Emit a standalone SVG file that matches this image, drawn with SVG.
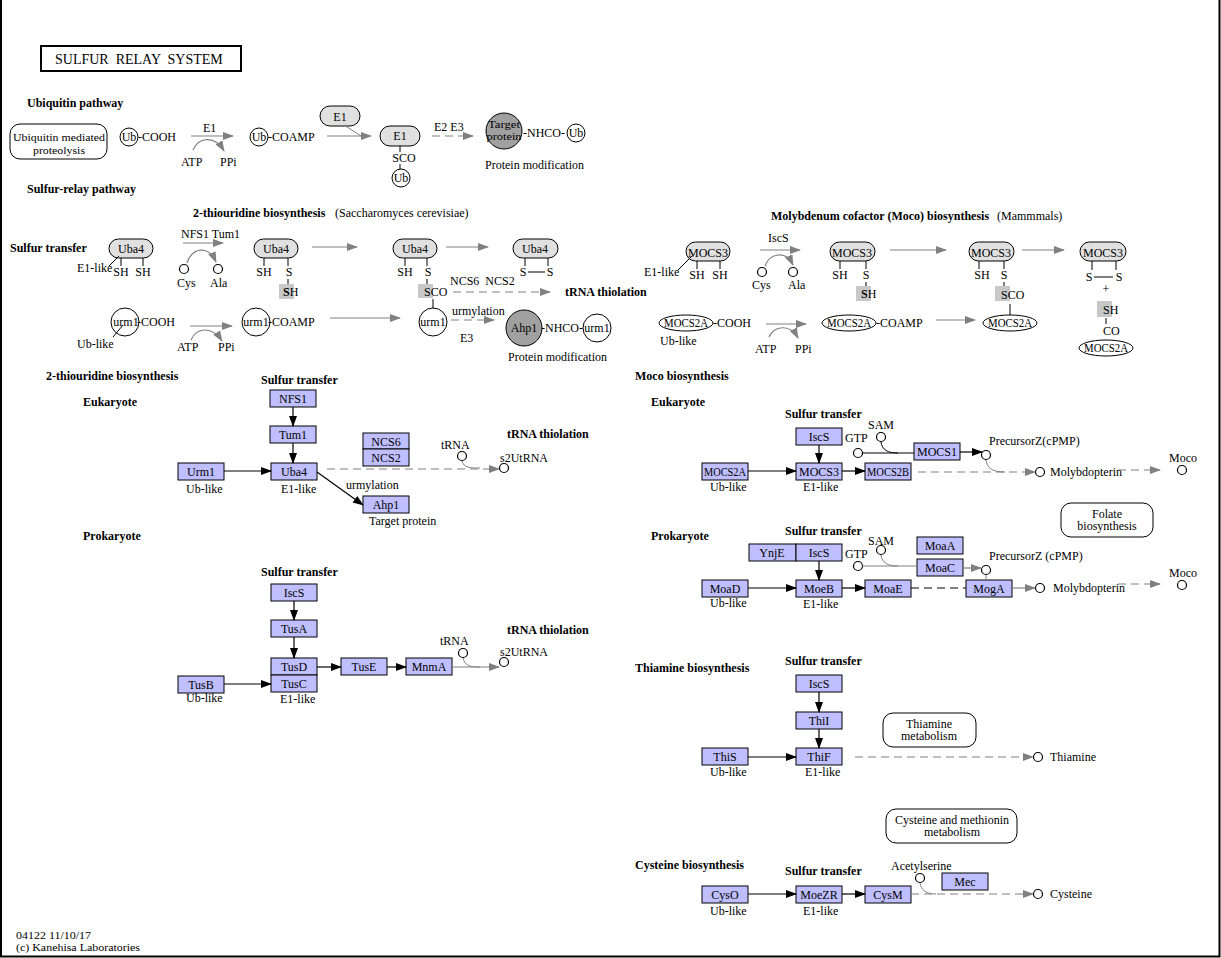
<svg xmlns="http://www.w3.org/2000/svg" width="1221" height="958" viewBox="0 0 1221 958">
<style>
text{font-family:"Liberation Serif",serif;font-size:12px;fill:#000}
.b{font-weight:bold;font-size:12px}
.m{text-anchor:middle}
.s{font-size:11px}
.t{font-size:14px}
.g{fill:#bfbfff;stroke:#000;stroke-width:1}
.pill{fill:#e0e0e0;stroke:#000;stroke-width:1}
.cw{fill:#fff;stroke:#000;stroke-width:1}
.cg{fill:#a0a0a0;stroke:#000;stroke-width:1}
.sq{fill:#c8c8c8;stroke:none}
.map{fill:#fff;stroke:#000;stroke-width:1}
.ln{stroke:#000;stroke-width:1;fill:none}
.ga{stroke:#808080;stroke-width:1.2;fill:none;marker-end:url(#ag)}
.gd{stroke:#808080;stroke-width:1.2;fill:none;stroke-dasharray:8,5;marker-end:url(#ag)}
.gl{stroke:#808080;stroke-width:1;fill:none}
.ba{stroke:#000;stroke-width:1.2;fill:none;marker-end:url(#ab)}
.bd{stroke:#000;stroke-width:1;fill:none;stroke-dasharray:8,5}
.sm{fill:#fff;stroke:#000;stroke-width:1.2}
</style>
<defs>
<marker id="ag" markerUnits="userSpaceOnUse" markerWidth="12" markerHeight="10" refX="10" refY="4" orient="auto"><path d="M0,0 L11,4 L0,8 z" fill="#808080"/></marker>
<marker id="ab" markerUnits="userSpaceOnUse" markerWidth="12" markerHeight="10" refX="10" refY="4" orient="auto"><path d="M0,0 L11,4 L0,8 z" fill="#000"/></marker>
</defs>
<rect x="0" y="0" width="1221" height="958" fill="#fff"/>
<path d="M1,0 V956.5 H1219.5 V0" fill="none" stroke="#000" stroke-width="2"/>

<g id="title"><rect x="41" y="46" width="200" height="25" fill="#fff" stroke="#000" stroke-width="2"/><text x="55" y="64" class="t" xml:space="preserve">SULFUR  RELAY  SYSTEM</text></g>

<g id="labels">
<text x="27" y="107" class="b">Ubiquitin pathway</text>
<text x="27" y="193" class="b">Sulfur-relay pathway</text>
<text x="193" y="217" class="b">2-thiouridine biosynthesis</text>
<text x="335" y="217">(Saccharomyces cerevisiae)</text>
<text x="10" y="252" class="b">Sulfur transfer</text>
<text x="771" y="220" class="b">Molybdenum cofactor (Moco) biosynthesis</text>
<text x="997" y="220">(Mammmals)</text>
<text x="565" y="296" class="b">tRNA thiolation</text>
<text x="46" y="380" class="b">2-thiouridine biosynthesis</text>
<text x="83" y="406" class="b">Eukaryote</text>
<text x="261" y="384" class="b">Sulfur transfer</text>
<text x="507" y="438" class="b">tRNA thiolation</text>
<text x="83" y="540" class="b">Prokaryote</text>
<text x="261" y="576" class="b">Sulfur transfer</text>
<text x="507" y="634" class="b">tRNA thiolation</text>
<text x="635" y="380" class="b">Moco biosynthesis</text>
<text x="651" y="406" class="b">Eukaryote</text>
<text x="785" y="418" class="b">Sulfur transfer</text>
<text x="651" y="540" class="b">Prokaryote</text>
<text x="785" y="535" class="b">Sulfur transfer</text>
<text x="635" y="672" class="b">Thiamine biosynthesis</text>
<text x="785" y="665" class="b">Sulfur transfer</text>
<text x="635" y="869" class="b">Cysteine biosynthesis</text>
<text x="785" y="875" class="b">Sulfur transfer</text>
<text x="16" y="938.5" class="s" textLength="75" lengthAdjust="spacingAndGlyphs">04122 11/10/17</text>
<text x="16" y="951" class="s" textLength="124" lengthAdjust="spacingAndGlyphs">(c) Kanehisa Laboratories</text>
</g>

<!-- Ubiquitin pathway -->
<g id="map_ubiquitin"><rect x="10" y="124" width="97" height="35" rx="10" class="map"/><text x="59" y="141" class="m s" textLength="92" lengthAdjust="spacingAndGlyphs">Ubiquitin mediated</text><text x="59" y="153.5" class="m s" textLength="52" lengthAdjust="spacingAndGlyphs">proteolysis</text></g>
<g id="ub_cooh"><circle cx="129" cy="137" r="9" class="cw"/><text x="129" y="141" class="m">Ub</text><text x="138" y="141">-COOH</text></g>
<g id="ub_coamp"><circle cx="259" cy="137" r="9" class="cw"/><text x="259" y="141" class="m">Ub</text><text x="268" y="141">-COAMP</text></g>
<g id="e1_a"><rect x="320" y="106" width="40" height="20" rx="10" class="pill"/><text x="340" y="121" class="m">E1</text></g>
<g id="e1_sco"><rect x="380" y="126" width="40" height="20" rx="10" class="pill"/><text x="400" y="140" class="m">E1</text><path d="M400,146 V152 M400,164 V169" class="ln"/><text x="404" y="162" class="m">SCO</text><circle cx="401" cy="178" r="9" class="cw"/><text x="401" y="182" class="m">Ub</text></g>
<g id="target_ub"><circle cx="504" cy="131" r="18" class="cg"/><text x="504" y="127.5" class="m s" textLength="32" lengthAdjust="spacingAndGlyphs">Target</text><text x="504" y="140" class="m s" textLength="35" lengthAdjust="spacingAndGlyphs">protein</text><text x="523" y="137">-NHCO-</text><circle cx="576" cy="133" r="9" class="cw"/><text x="576" y="137" class="m">Ub</text><text x="485" y="169">Protein modification</text></g>
<g id="ub_texts"><text x="203" y="132">E1</text><text x="181" y="166">ATP</text><text x="220" y="166">PPi</text><text x="434" y="131">E2 E3</text></g>

<!-- 2-thiouridine top -->
<g id="uba4_1"><rect x="109" y="239" width="44" height="19" rx="9.5" class="pill"/><text x="131" y="253" class="m">Uba4</text><path d="M121,258 V266 M143,258 V266 M109,266 L119,256" class="ln"/><text x="121" y="276" class="m">SH</text><text x="143" y="276" class="m">SH</text><text x="77" y="272">E1-like</text></g>
<g id="uba4_2"><rect x="254" y="239" width="44" height="19" rx="9.5" class="pill"/><text x="276" y="253" class="m">Uba4</text><path d="M264,258 V266 M288,258 V266 M288,279 V285" class="ln"/><rect x="279" y="284" width="15" height="15" class="sq"/><text x="264" y="276" class="m">SH</text><text x="289" y="276" class="m">S</text><text x="283" y="296"><tspan font-weight="bold">S</tspan>H</text></g>
<g id="uba4_3"><rect x="393" y="239" width="44" height="19" rx="9.5" class="pill"/><text x="415" y="253" class="m">Uba4</text><path d="M405,258 V266 M427,258 V266 M427,279 V285 M433,299 V308" class="ln"/><rect x="418" y="284" width="15" height="14" class="sq"/><text x="405" y="276" class="m">SH</text><text x="428" y="276" class="m">S</text><text x="424" y="296">SCO</text></g>
<g id="uba4_4"><rect x="513" y="239" width="45" height="19" rx="9.5" class="pill"/><text x="535" y="253" class="m">Uba4</text><path d="M525,258 V266 M548,258 V266 M528,272 H545" class="ln"/><text x="523" y="276" class="m">S</text><text x="550" y="276" class="m">S</text></g>
<g id="sr_texts"><text x="181" y="238">NFS1 Tum1</text><circle cx="184" cy="269" r="4.5" class="sm"/><circle cx="218" cy="269" r="4.5" class="sm"/><text x="177" y="287">Cys</text><text x="210" y="287">Ala</text><text x="450" y="285" xml:space="preserve">NCS6  NCS2</text><text x="177" y="351">ATP</text><text x="218" y="351">PPi</text><text x="452" y="315">urmylation</text><text x="460" y="342">E3</text></g>
<g id="urm1_cooh"><circle cx="125" cy="322" r="14" class="cw"/><text x="126" y="326" class="m">urm1</text><text x="137" y="326">-COOH</text><path d="M113,337 L123,325" class="ln"/><text x="77" y="348">Ub-like</text></g>
<g id="urm1_coamp"><circle cx="256" cy="322" r="14" class="cw"/><text x="256" y="326" class="m">urm1</text><text x="268" y="326">-COAMP</text></g>
<g id="urm1_sco"><circle cx="433" cy="322" r="14" class="cw"/><text x="433" y="326" class="m">urm1</text></g>
<g id="ahp1_urm1"><circle cx="524" cy="328" r="18" class="cg"/><text x="524" y="332" class="m">Ahp1</text><text x="541" y="332">-NHCO-</text><circle cx="597" cy="328" r="14" class="cw"/><text x="597" y="332" class="m">urm1</text><text x="508" y="361">Protein modification</text></g>

<!-- Moco top -->
<g id="mocs3_1"><rect x="686" y="242" width="44" height="19" rx="9.5" class="pill"/><text x="708" y="257" class="m">MOCS3</text><path d="M697,261 V269 M720,261 V269 M678,270 L692,256" class="ln"/><text x="697" y="279" class="m">SH</text><text x="720" y="279" class="m">SH</text><text x="644" y="276">E1-like</text></g>
<g id="mocs3_2"><rect x="830" y="242" width="45" height="19" rx="9.5" class="pill"/><text x="852" y="257" class="m">MOCS3</text><path d="M840,261 V269 M866,261 V269 M866,282 V287" class="ln"/><rect x="856" y="286" width="15" height="15" class="sq"/><text x="840" y="279" class="m">SH</text><text x="866" y="279" class="m">S</text><text x="861" y="298"><tspan font-weight="bold">S</tspan>H</text></g>
<g id="mocs3_3"><rect x="969" y="242" width="45" height="19" rx="9.5" class="pill"/><text x="991" y="257" class="m">MOCS3</text><path d="M979,261 V269 M1004,261 V269 M1004,282 V287 M1010,304 V315" class="ln"/><rect x="995" y="286" width="15" height="15" class="sq"/><text x="982" y="279" class="m">SH</text><text x="1004" y="279" class="m">S</text><text x="1001" y="299">SCO</text></g>
<g id="mocs3_4"><rect x="1080" y="242" width="46" height="19" rx="9.5" class="pill"/><text x="1103" y="257" class="m">MOCS3</text><path d="M1092,261 V270 M1116,261 V270 M1094,277 H1113 M1106,318 V324" class="ln"/><text x="1089" y="281" class="m">S</text><text x="1119" y="281" class="m">S</text><text x="1106" y="293" class="m">+</text><rect x="1097" y="301" width="15" height="16" class="sq"/><text x="1103" y="314">SH</text><text x="1103" y="335">CO</text><ellipse cx="1106" cy="348" rx="27" ry="8" class="cw"/><text x="1106" y="352" class="m" textLength="44" lengthAdjust="spacingAndGlyphs">MOCS2A</text></g>
<g id="mocs2a_cooh"><ellipse cx="686" cy="323" rx="27" ry="8" class="cw"/><text x="686" y="327" class="m" textLength="44" lengthAdjust="spacingAndGlyphs">MOCS2A</text><text x="713" y="327">-COOH</text><text x="660" y="345">Ub-like</text></g>
<g id="mocs2a_coamp"><ellipse cx="849" cy="323" rx="27" ry="8" class="cw"/><text x="849" y="327" class="m" textLength="44" lengthAdjust="spacingAndGlyphs">MOCS2A</text><text x="876" y="327">-COAMP</text></g>
<g id="mocs2a_sco"><ellipse cx="1010" cy="323" rx="27" ry="8" class="cw"/><text x="1010" y="327" class="m" textLength="44" lengthAdjust="spacingAndGlyphs">MOCS2A</text></g>
<g id="moco_texts"><text x="768" y="242">IscS</text><circle cx="762" cy="272" r="4.5" class="sm"/><circle cx="793" cy="272" r="4.5" class="sm"/><text x="752" y="289">Cys</text><text x="788" y="289">Ala</text><text x="755" y="353">ATP</text><text x="795" y="353">PPi</text></g>

<!-- Eukaryote 2-thiouridine genes -->
<g id="g_nfs1"><rect x="270" y="390" width="46" height="17" class="g"/><text x="293" y="403" class="m">NFS1</text></g>
<g id="g_tum1"><rect x="270" y="426" width="46" height="17" class="g"/><text x="293" y="439" class="m">Tum1</text></g>
<g id="g_uba4"><rect x="271" y="463" width="46" height="17" class="g"/><text x="294" y="476" class="m">Uba4</text><text x="281" y="493">E1-like</text></g>
<g id="g_urm1"><rect x="178" y="463" width="46" height="17" class="g"/><text x="201" y="476" class="m">Urm1</text><text x="186" y="493">Ub-like</text></g>
<g id="g_ncs6"><rect x="363" y="433" width="46" height="16" class="g"/><text x="386" y="446" class="m">NCS6</text></g>
<g id="g_ncs2"><rect x="363" y="449" width="46" height="17" class="g"/><text x="386" y="462" class="m">NCS2</text></g>
<g id="g_ahp1"><rect x="363" y="496" width="46" height="17" class="g"/><text x="386" y="509" class="m">Ahp1</text><text x="369" y="525">Target protein</text><text x="346" y="489">urmylation</text></g>
<g id="c_trna1"><circle cx="462" cy="456" r="4.5" class="sm"/><text x="441" y="449">tRNA</text></g>
<g id="c_s2u1"><circle cx="504" cy="468" r="4.5" class="sm"/><text x="500" y="462">s2UtRNA</text></g>

<!-- Prokaryote 2-thiouridine genes -->
<g id="g_iscs1"><rect x="271" y="584" width="46" height="17" class="g"/><text x="294" y="597" class="m">IscS</text></g>
<g id="g_tusa"><rect x="271" y="620" width="46" height="17" class="g"/><text x="294" y="633" class="m">TusA</text></g>
<g id="g_tusd"><rect x="271" y="658" width="46" height="17" class="g"/><text x="294" y="671" class="m">TusD</text></g>
<g id="g_tusc"><rect x="271" y="675" width="46" height="17" class="g"/><text x="294" y="688" class="m">TusC</text><text x="280" y="703">E1-like</text></g>
<g id="g_tusb"><rect x="178" y="676" width="46" height="17" class="g"/><text x="201" y="689" class="m">TusB</text><text x="186" y="702">Ub-like</text></g>
<g id="g_tuse"><rect x="341" y="658" width="46" height="17" class="g"/><text x="364" y="671" class="m">TusE</text></g>
<g id="g_mnma"><rect x="406" y="658" width="46" height="17" class="g"/><text x="429" y="671" class="m">MnmA</text></g>
<g id="c_trna2"><circle cx="463" cy="653" r="4.5" class="sm"/><text x="440" y="645">tRNA</text></g>
<g id="c_s2u2"><circle cx="504" cy="662" r="4.5" class="sm"/><text x="500" y="656">s2UtRNA</text></g>

<!-- Moco Eukaryote -->
<g id="g_iscs2"><rect x="796" y="428" width="46" height="17" class="g"/><text x="819" y="441" class="m">IscS</text></g>
<g id="g_mocs3"><rect x="796" y="463" width="46" height="17" class="g"/><text x="819" y="476" class="m">MOCS3</text><text x="803" y="491">E1-like</text></g>
<g id="g_mocs2a"><rect x="702" y="463" width="46" height="17" class="g"/><text x="725" y="476" class="m" textLength="42" lengthAdjust="spacingAndGlyphs">MOCS2A</text><text x="710" y="491">Ub-like</text></g>
<g id="g_mocs2b"><rect x="865" y="463" width="46" height="17" class="g"/><text x="888" y="476" class="m" textLength="42" lengthAdjust="spacingAndGlyphs">MOCS2B</text></g>
<g id="g_mocs1"><rect x="914" y="443" width="46" height="17" class="g"/><text x="937" y="456" class="m">MOCS1</text></g>
<g id="c_gtp1"><circle cx="858" cy="453" r="4.5" class="sm"/><text x="845" y="442">GTP</text></g>
<g id="c_sam1"><circle cx="881" cy="437" r="4.5" class="sm"/><text x="868" y="429">SAM</text></g>
<g id="c_prez1"><circle cx="986" cy="455" r="4.5" class="sm"/><text x="989" y="445">PrecursorZ(cPMP)</text></g>
<g id="c_mpt1"><circle cx="1040" cy="472" r="4.5" class="sm"/><text x="1050" y="476">Molybdopterin</text></g>
<g id="c_moco1"><circle cx="1182" cy="470" r="4.5" class="sm"/><text x="1169" y="462">Moco</text></g>
<g id="map_folate"><rect x="1061" y="503" width="92" height="34" rx="10" class="map"/><text x="1107" y="518" class="m">Folate</text><text x="1107" y="530" class="m">biosynthesis</text></g>

<!-- Moco Prokaryote -->
<g id="g_ynje"><rect x="749" y="544" width="47" height="17" class="g"/><text x="772" y="557" class="m">YnjE</text></g>
<g id="g_iscs3"><rect x="796" y="544" width="46" height="17" class="g"/><text x="819" y="557" class="m">IscS</text></g>
<g id="g_moeb"><rect x="796" y="580" width="46" height="17" class="g"/><text x="819" y="593" class="m">MoeB</text><text x="803" y="608">E1-like</text></g>
<g id="g_moad"><rect x="702" y="580" width="46" height="17" class="g"/><text x="725" y="593" class="m">MoaD</text><text x="710" y="607">Ub-like</text></g>
<g id="g_moae"><rect x="865" y="580" width="46" height="17" class="g"/><text x="888" y="593" class="m">MoaE</text></g>
<g id="g_moaa"><rect x="917" y="537" width="46" height="17" class="g"/><text x="940" y="550" class="m">MoaA</text></g>
<g id="g_moac"><rect x="917" y="559" width="46" height="17" class="g"/><text x="940" y="572" class="m">MoaC</text></g>
<g id="g_moga"><rect x="966" y="580" width="46" height="17" class="g"/><text x="989" y="593" class="m">MogA</text></g>
<g id="c_gtp2"><circle cx="858" cy="566" r="4.5" class="sm"/><text x="845" y="558">GTP</text></g>
<g id="c_sam2"><circle cx="881" cy="550" r="4.5" class="sm"/><text x="868" y="545">SAM</text></g>
<g id="c_prez2"><circle cx="986" cy="570" r="4.5" class="sm"/><text x="989" y="560">PrecursorZ (cPMP)</text></g>
<g id="c_mpt2"><circle cx="1040" cy="588" r="4.5" class="sm"/><text x="1053" y="592">Molybdopterin</text></g>
<g id="c_moco2"><circle cx="1182" cy="585" r="4.5" class="sm"/><text x="1169" y="577">Moco</text></g>

<!-- Thiamine -->
<g id="g_iscs4"><rect x="796" y="675" width="46" height="17" class="g"/><text x="819" y="688" class="m">IscS</text></g>
<g id="g_thii"><rect x="796" y="712" width="46" height="17" class="g"/><text x="819" y="725" class="m">ThiI</text></g>
<g id="g_thif"><rect x="796" y="748" width="46" height="17" class="g"/><text x="819" y="761" class="m">ThiF</text><text x="805" y="776">E1-like</text></g>
<g id="g_this"><rect x="702" y="748" width="46" height="17" class="g"/><text x="725" y="761" class="m">ThiS</text><text x="710" y="776">Ub-like</text></g>
<g id="c_thiamine"><circle cx="1038" cy="757" r="4.5" class="sm"/><text x="1050" y="761">Thiamine</text></g>
<g id="map_thiamine"><rect x="883" y="713" width="93" height="34" rx="10" class="map"/><text x="929" y="728" class="m">Thiamine</text><text x="929" y="740" class="m">metabolism</text></g>

<!-- Cysteine -->
<g id="map_cys"><rect x="886" y="809" width="131" height="34" rx="10" class="map"/><text x="952" y="824" class="m">Cysteine and methionin</text><text x="952" y="836" class="m">metabolism</text></g>
<g id="g_cyso"><rect x="702" y="886" width="46" height="17" class="g"/><text x="725" y="899" class="m">CysO</text><text x="710" y="915">Ub-like</text></g>
<g id="g_moezr"><rect x="796" y="886" width="46" height="17" class="g"/><text x="819" y="899" class="m">MoeZR</text><text x="803" y="915">E1-like</text></g>
<g id="g_cysm"><rect x="865" y="886" width="46" height="17" class="g"/><text x="888" y="899" class="m">CysM</text></g>
<g id="g_mec"><rect x="942" y="873" width="46" height="17" class="g"/><text x="965" y="886" class="m">Mec</text></g>
<g id="c_acser"><circle cx="920" cy="878" r="4.5" class="sm"/><text x="891" y="870">Acetylserine</text></g>
<g id="c_cys"><circle cx="1038" cy="894" r="4.5" class="sm"/><text x="1050" y="898">Cysteine</text></g>

<g id="connectors">
<path d="M191,136 H233" class="ga"/>
<path d="M193,150 C198,138 214,134 224,151" class="ga"/>
<path d="M327,136 H371" class="ga"/>
<path d="M344,125 L361,136" class="gl"/>
<path d="M432,136 H473" class="gd"/>
<path d="M183,243 H223" class="ga"/>
<path d="M187,263 C192,248 208,244 216,262" class="ga"/>
<path d="M312,247 H357" class="ga"/>
<path d="M446,247 H488" class="ga"/>
<path d="M453,292 H550" class="gd"/>
<path d="M190,326 H232" class="ga"/>
<path d="M191,340 C196,328 212,325 222,341" class="ga"/>
<path d="M330,318 H400" class="ga"/>
<path d="M451,320 H494" class="gd"/>
<path d="M760,250 H800" class="ga"/>
<path d="M765,266 C770,253 786,250 793,265" class="ga"/>
<path d="M890,250 H946" class="ga"/>
<path d="M1022,250 H1064" class="ga"/>
<path d="M766,324 H806" class="ga"/>
<path d="M769,337 C774,326 790,323 798,338" class="ga"/>
<path d="M936,320 H975" class="ga"/>
<path d="M293,407 V426" class="ba"/>
<path d="M293,443 V463" class="ba"/>
<path d="M224,471 H271" class="ba"/>
<path d="M317,472 L363,505" class="ba"/>
<path d="M327,469 H499" class="gd"/>
<path d="M462,461 C464,468 470,468 480,468" class="gl"/>
<path d="M294,601 V620" class="ba"/>
<path d="M294,637 V658" class="ba"/>
<path d="M224,684 H271" class="ba"/>
<path d="M317,667 H341" class="ba"/>
<path d="M387,667 H406" class="ba"/>
<path d="M452,667 H499" class="ga"/>
<path d="M463,658 C465,666 470,667 480,667" class="gl"/>
<path d="M819,445 V463" class="ba"/>
<path d="M748,471 H796" class="ba"/>
<path d="M842,471 H865" class="ba"/>
<path d="M862,453 H914" class="ln"/>
<path d="M881,442 C882,450 888,453 898,453" class="ln"/>
<path d="M960,452 H982" class="ba"/>
<path d="M918,472 H1035" class="gd"/>
<path d="M986,460 C987,468 992,472 1005,472" class="gl"/>
<path d="M1118,470 H1160" class="gd"/>
<path d="M819,561 V580" class="ba"/>
<path d="M748,588 H796" class="ba"/>
<path d="M842,588 H865" class="ba"/>
<path d="M911,588 H966" class="bd"/>
<path d="M862,566 H917" class="gl"/>
<path d="M881,555 C882,563 888,566 898,566" class="gl"/>
<path d="M963,568 H981" class="ga"/>
<path d="M986,575 V580" class="gl"/>
<path d="M1012,588 H1035" class="ga"/>
<path d="M1118,584 H1160" class="gd"/>
<path d="M819,692 V712" class="ba"/>
<path d="M819,729 V748" class="ba"/>
<path d="M748,757 H796" class="ba"/>
<path d="M855,757 H1033" class="gd"/>
<path d="M748,894 H796" class="ba"/>
<path d="M842,894 H865" class="ba"/>
<path d="M911,894 H1033" class="gd"/>
<path d="M920,883 C921,890 926,894 936,894" class="gl"/>
</g>
</svg>
